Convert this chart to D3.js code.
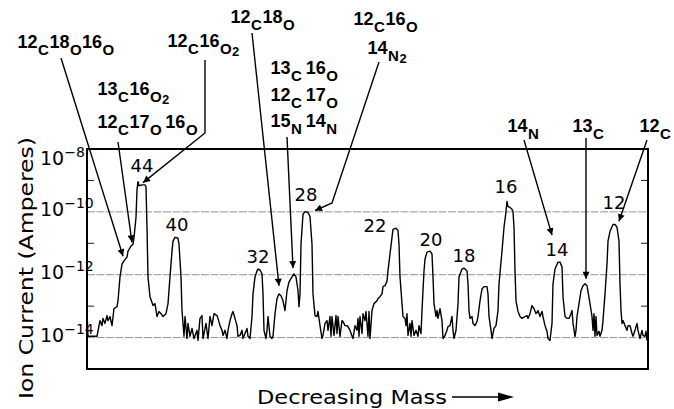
<!DOCTYPE html>
<html><head><meta charset="utf-8">
<script src="https://cdn.jsdelivr.net/npm/d3@7"></script>
<style>
body{margin:0;background:#fff}
svg{display:block}
text{font-family:"DejaVu Sans",sans-serif;fill:#000}
text.sp{font-family:"Liberation Sans",Arial,sans-serif;font-weight:bold}
</style>
</head><body>
<svg id="chart" width="674" height="409"></svg>
<script>
// ---------- data ----------
// scan position (arbitrary units, mass decreasing to the right) and log10 of ion current (A)
const scanPosition = [
0,1,2,10,12,13,15,16,18,20,21,23,25,27,30,31,33,35,37,40,41,44,46,47,49,50,51,52,55,58,59,60,61,63,66,68,70,72,74,76,79,81,83,85,86,88,91,92,94,95,97,98,100,101,103,105,107,110,111,113,115,116,119,121,
123,125,127,130,131,133,135,136,138,140,141,143,145,146,148,150,151,153,155,156,158,160,161,163,165,166,168,170,171,173,175,176,177,179,180,181,183,185,186,188,190,192,194,196,198,200,202,205,207,209,211,212,213,214,216,218,221,223,225,226,228,230,231,233,235,236,
238,240,241,243,244,245,247,249,250,251,253,255,256,258,260,261,263,265,266,268,270,271,272,273,275,276,278,279,281,282,283,285,287,290,291,293,295,296,298,300,301,303,305,306,309,311,312,313,315,316,318,319,320,321,323,324,325,327,329,331,332,334,335,337,338,340,343,345,346,347,349,350,351,353,355,356,
358,360,361,363,365,366,367,369,371,372,375,377,380,381,382,383,385,386,388,390,391,393,395,397,400,401,402,404,405,407,409,411,412,415,417,419,420,421,423,425,426,427,428,429,431,433,435,438,440,441,443,445,447,449,451,453,455,456,458,460,461,463,465,466,468,471,473,475,476,478,480,482,484,485,486,488,489,490,492,494,496,498,500,501,503,505,506,507,508,509,510,512,513,515,516,518,520,521,523,526,528,530,532,533,534,535,536,538,540,541,543,545,546,548,550,551,553,555,556,558,559,560
];
const logCurrent = [
-13.17,-13.96,-13.96,-13.96,-13.62,-13.46,-13.62,-13.39,-13.55,-13.30,-13.46,-13.33,-13.62,-13.08,-13.02,-12.83,-12.07,-11.66,-11.56,-11.44,-11.25,-11.09,-11.03,-10.81,-10.18,-9.29,-9.04,-9.17,-9.14,-9.14,-9.20,-10.49,-12.07,-12.70,-12.98,-12.92,-13.33,-13.17,-13.24,-13.33,-13.24,-12.92,-12.07,-11.25,-10.93,-10.81,-10.84,-11.03,-12.07,-13.14,-13.96,-13.33,-14.03,-13.55,-13.96,-13.71,-14.03,-13.77,-14.09,-13.39,-13.30,-14.03,-13.55,-14.03,
-13.33,-13.62,-13.24,-13.30,-13.39,-13.62,-13.77,-13.93,-13.77,-14.03,-13.77,-13.46,-13.24,-13.17,-13.39,-13.62,-13.96,-13.93,-13.77,-14.03,-13.87,-13.71,-13.96,-14.03,-13.33,-12.61,-12.07,-11.88,-11.82,-11.85,-11.97,-12.61,-13.77,-14.03,-13.77,-13.33,-13.96,-14.03,-13.96,-13.24,-12.76,-12.61,-12.67,-12.83,-13.14,-12.51,-12.23,-12.07,-11.97,-12.07,-12.51,-13.02,-12.61,-11.03,-10.08,-9.99,-10.02,-10.15,-11.03,-12.61,-13.30,-13.33,-13.17,-13.62,-14.03,-13.93,
-13.55,-13.46,-13.77,-13.33,-13.96,-13.33,-13.93,-13.30,-13.87,-13.33,-13.96,-13.46,-13.49,-13.62,-13.62,-13.65,-13.77,-13.96,-14.03,-13.62,-13.77,-13.39,-13.96,-13.33,-13.87,-13.24,-13.46,-13.17,-13.96,-13.17,-14.03,-13.14,-12.92,-12.83,-12.76,-12.70,-12.61,-12.38,-12.35,-12.20,-11.88,-11.34,-10.81,-10.56,-10.52,-10.59,-11.03,-12.07,-12.92,-13.33,-13.39,-13.62,-13.24,-13.93,-13.55,-13.96,-13.46,-13.93,-13.77,-13.96,-13.62,-13.87,-13.14,-11.88,-11.50,-11.28,-11.25,-11.34,-12.07,-12.92,-13.33,-13.14,-13.39,-13.08,-13.46,-14.03,
-13.93,-13.77,-13.65,-13.62,-13.33,-13.77,-14.03,-13.77,-12.92,-12.07,-11.82,-11.79,-11.88,-12.29,-13.14,-13.39,-13.33,-13.55,-13.62,-13.49,-13.33,-12.83,-12.45,-12.38,-12.38,-12.61,-13.33,-13.77,-14.03,-13.71,-13.62,-13.14,-12.29,-11.25,-10.49,-9.99,-9.67,-9.83,-9.86,-9.92,-9.99,-10.49,-11.88,-12.83,-13.17,-13.33,-13.39,-13.33,-13.30,-13.39,-13.24,-12.98,-13.08,-13.24,-13.14,-13.33,-13.17,-13.33,-13.62,-13.80,-14.03,-14.09,-13.55,-12.29,-11.82,-11.60,-11.60,-11.75,-12.70,-13.33,-13.39,-13.39,-13.24,-13.14,-13.55,-13.96,-13.77,-13.33,-12.92,-12.51,-12.35,-12.29,-12.35,-12.54,-12.92,-13.33,-13.77,-13.24,-13.96,-13.33,-13.93,-13.80,-13.96,-13.77,-13.46,-12.61,-11.66,-10.93,-10.62,-10.40,-10.40,-10.49,-10.93,-12.29,-13.14,-13.55,-13.46,-13.62,-13.77,-13.62,-13.62,-13.87,-13.96,-13.77,-13.55,-13.77,-14.03,-13.77,-13.93,-13.96,-13.80,-14.09
];
const yTickExponents = [-8, -10, -12, -14];
const minorTickExponents = [-9, -11, -13];
const gridExponents = [-10, -12, -14];

// peak (mass number) labels: text, scan position, log current of the label baseline
const peakLabelText = ["44","40","32","28","22","20","18","16","14","12"];
const peakLabelScan = [55, 90, 171, 219, 288, 344, 377, 419, 470, 527];
const peakLabelLog  = [-8.73, -10.62, -11.63, -9.67, -10.65, -11.09, -11.60, -9.39, -11.41, -9.92];

// species annotations: parts [text, kind] (n = mass number, l = element, s = subscript)
const speciesParts = [
  [["12","n"],["C","l"],["18","n"],["O","l"],["16","n"],["O","l"]],
  [["12","n"],["C","l"],["16","n"],["O","l"],["2","s"]],
  [["13","n"],["C","l"],["16","n"],["O","l"],["2","s"]],
  [["12","n"],["C","l"],["17","n"],["O","l"],[" ","g"],["16","n"],["O","l"]],
  [["12","n"],["C","l"],["18","n"],["O","l"]],
  [["13","n"],["C","l"],[" ","g"],["16","n"],["O","l"]],
  [["12","n"],["C","l"],[" ","g"],["17","n"],["O","l"]],
  [["15","n"],["N","l"],[" ","g"],["14","n"],["N","l"]],
  [["12","n"],["C","l"],["16","n"],["O","l"]],
  [["14","n"],["N","l"],["2","s"]],
  [["14","n"],["N","l"]],
  [["13","n"],["C","l"]],
  [["12","n"],["C","l"]]
];
// arrow tips (data space): scan position, log current
const arrowTipScan = [36, 45, 56, 192, 206, 228, 465, 499, 532];
const arrowTipLog  = [-11.41, -10.97, -9.07, -12.35, -11.79, -9.96, -10.74, -12.13, -10.30];

// ---------- layout ----------
const plot = {left: 87, right: 648, top: 149, bottom: 369};
const speciesPos = [[17,48],[167,47],[97,95],[97,128],[230,23],[270,74],[270,101],[270,127],[353,25],[367,54],[507,132],[572,132],[639,132]];
const arrowStarts = [
  [[61,58]],
  [[118,142]],
  [[205,60],[205,133]],
  [[252,33]],
  [[287,137]],
  [[379,62],[332,203]],
  [[524,140]],
  [[586,138]],
  [[647,140]]
];

const svg = d3.select("#chart");
const x = d3.scaleLinear().domain([0, 561]).range([plot.left, plot.right]);
const y = d3.scaleLog().domain([1e-15, 1e-8]).range([plot.bottom, plot.top]);
const trace = scanPosition.map((s, i) => [s, Math.pow(10, logCurrent[i])]);

// grid lines
svg.append("g").selectAll("line").data(gridExponents).join("line")
  .attr("x1", plot.left).attr("x2", plot.right)
  .attr("y1", d => y(Math.pow(10, d))).attr("y2", d => y(Math.pow(10, d)))
  .attr("stroke", "#777").attr("stroke-width", 0.8).attr("stroke-dasharray", "8,1.5");

// minor ticks (inside, both sides)
const mt = svg.append("g");
mt.selectAll("line.l").data(minorTickExponents).join("line").attr("class","l")
  .attr("x1", plot.left).attr("x2", plot.left + 7)
  .attr("y1", d => y(Math.pow(10, d))).attr("y2", d => y(Math.pow(10, d)))
  .attr("stroke", "#222").attr("stroke-width", 1);
mt.selectAll("line.r").data(minorTickExponents).join("line").attr("class","r")
  .attr("x1", plot.right - 7).attr("x2", plot.right)
  .attr("y1", d => y(Math.pow(10, d))).attr("y2", d => y(Math.pow(10, d)))
  .attr("stroke", "#222").attr("stroke-width", 1);

// trace
svg.append("path").datum(trace)
  .attr("fill", "none").attr("stroke", "#000").attr("stroke-width", 1.4)
  .attr("stroke-linejoin", "round")
  .attr("d", d3.line().x(d => x(d[0])).y(d => y(d[1])));

// frame
svg.append("rect").attr("x", plot.left).attr("y", plot.top)
  .attr("width", plot.right - plot.left).attr("height", plot.bottom - plot.top)
  .attr("fill", "none").attr("stroke", "#000").attr("stroke-width", 2);

// y tick labels
const yl = svg.append("g").selectAll("text").data(yTickExponents).join("text")
  .attr("x", 40)
  .attr("y", (d, i) => y(Math.pow(10, d)) + (i === 0 ? 16 : 4))
  .attr("font-size", 19);
yl.append("tspan").text("10");
yl.append("tspan").attr("dy", -8).attr("font-size", 14).text(d => "\u2212" + (-d));

// axis titles
svg.append("text").attr("transform", "translate(33,268) rotate(-90)")
  .attr("text-anchor", "middle").attr("font-size", 20)
  .attr("textLength", 262).attr("lengthAdjust", "spacingAndGlyphs")
  .text("Ion Current (Amperes)");
svg.append("text").attr("x", 257).attr("y", 404).attr("font-size", 20)
  .attr("textLength", 190).attr("lengthAdjust", "spacingAndGlyphs")
  .text("Decreasing Mass");
svg.append("line").attr("x1", 452).attr("x2", 500).attr("y1", 397).attr("y2", 397)
  .attr("stroke", "#000").attr("stroke-width", 1.5);
svg.append("path").attr("d", "M498,392.5 L514,397 L498,401.5 Z").attr("fill", "#000");

// peak labels
svg.append("g").selectAll("text").data(peakLabelText).join("text")
  .attr("x", (d, i) => x(peakLabelScan[i]))
  .attr("y", (d, i) => y(Math.pow(10, peakLabelLog[i])))
  .attr("text-anchor", "middle").attr("font-size", 18)
  .text(d => d);

// species labels
const sizes = {n: 18, l: 15, s: 13, g: 10};
const shift = {n: 0, l: 7, s: 9, g: 0};
svg.append("g").selectAll("text").data(speciesParts).join("text")
  .attr("class", "sp")
  .attr("x", (d, i) => speciesPos[i][0]).attr("y", (d, i) => speciesPos[i][1])
  .each(function(parts) {
    let prev = 0;
    const t = d3.select(this);
    parts.forEach(([txt, kind]) => {
      t.append("tspan").attr("dy", shift[kind] - prev)
        .attr("font-size", sizes[kind]).attr("dx", 0.5)
        .text(txt);
      prev = shift[kind];
    });
  });

// arrows
const defs = svg.append("defs");
defs.append("marker").attr("id", "ah").attr("viewBox", "0 0 10 10")
  .attr("refX", 10).attr("refY", 5).attr("markerWidth", 9).attr("markerHeight", 7)
  .attr("markerUnits", "userSpaceOnUse").attr("orient", "auto")
  .append("path").attr("d", "M0,0 L10,5 L0,10 Z").attr("fill", "#000");
svg.append("g").selectAll("path").data(arrowStarts).join("path")
  .attr("d", (pts, i) => d3.line()([...pts, [x(arrowTipScan[i]), y(Math.pow(10, arrowTipLog[i]))]]))
  .attr("fill", "none").attr("stroke", "#000").attr("stroke-width", 1.4)
  .attr("marker-end", "url(#ah)");
</script>
</body></html>
